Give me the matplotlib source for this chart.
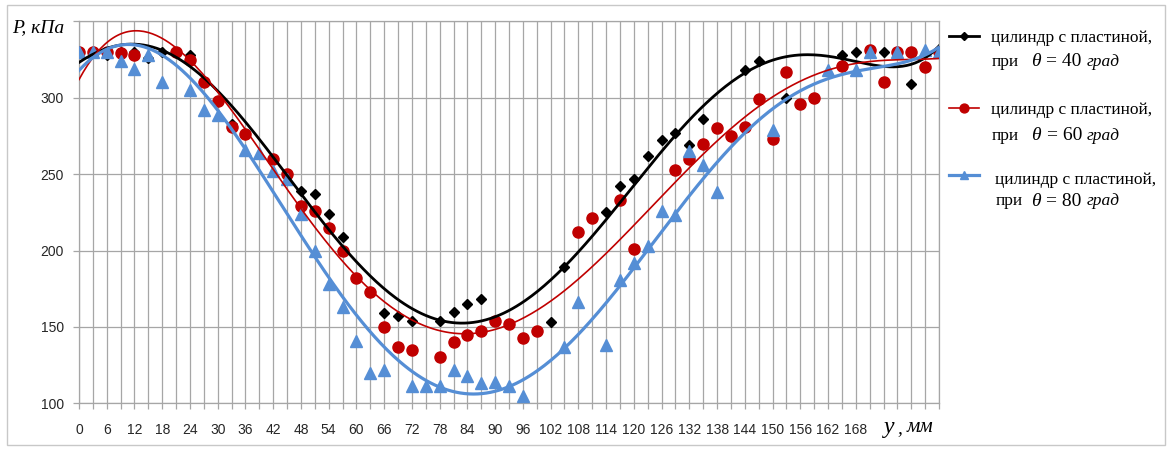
import matplotlib
matplotlib.use('Agg')
import matplotlib.pyplot as plt
import numpy as np
from matplotlib.lines import Line2D
from matplotlib.patches import Rectangle

nan = np.nan

# координата y, мм (шаг 3 мм)
y_mm = list(range(0, 187, 3))

# давление P, кПа (точки)
p40 = [330, 330, 328, 330, 330, 326, 330, 330, 328, 310, 298, 283, 276, nan, 260, 250,
       239, 237, 224, 209, nan, nan, 159, 157, 154, nan, 154, 160, 165, 168, nan, nan,
       nan, nan, 153, 189, nan, nan, 225, 242, 247, 262, 272, 277, 269, 286, nan, nan,
       318, 324, nan, 300, nan, nan, nan, 328, 330, nan, 330, nan, 309, nan, 330]
p60 = [330, 330, 330, 329, 328, nan, nan, 330, 325, 310, 298, 281, 276, nan, 260, 250,
       229, 226, 215, 200, 182, 173, 150, 137, 135, nan, 130, 140, 145, 147, 154, 152,
       143, 147, nan, nan, 212, 221, nan, 233, 201, nan, nan, 253, 260, 270, 280, 275,
       281, 299, 273, 317, 296, 300, nan, 321, nan, 331, 310, 330, 330, 320, 330]
p80 = [330, 330, 330, 324, 319, 328, 310, nan, 305, 292, 289, nan, 266, 264, 252, 247,
       224, 200, 178, 163, 141, 120, 122, nan, 111, 111, 111, 122, 118, 113, 114, 111,
       105, nan, nan, 137, 166, nan, 138, 181, 192, 203, 226, 223, 265, 256, 238, nan,
       nan, nan, 279, nan, nan, nan, 318, nan, 318, 330, nan, 330, nan, 331, 330]

# линии тренда
t40_x = [0, 6, 12, 18, 24, 30, 36, 45, 54, 66, 72, 81, 90, 96, 102, 108, 120, 129, 138,
         147, 153, 159, 165, 171, 177, 183, 186]
t40_p = [324, 331, 333.5, 332, 325.4, 302, 278, 252, 220, 170, 161, 155, 155.4, 163,
         182.6, 200, 245, 275.4, 301.5, 321, 325.9, 327.2, 326, 322, 322, 326, 333]
t60_x = [0, 6, 9, 12, 15, 18, 21, 24, 27, 30, 33, 36, 54, 66, 72, 84, 96, 102, 111, 114,
         120, 129, 135, 144, 147, 150, 156, 162, 168, 174, 180, 186]
t60_p = [311, 338, 342, 343, 341.5, 338.5, 333, 326.5, 316, 303, 290, 275.4, 211, 164,
         154, 145.5, 151, 166, 190, 203.7, 219, 245, 259, 285, 295, 300, 312.4, 319, 322,
         324.3, 325.4, 325.4]
t80_x = [0, 6, 12, 18, 24, 30, 36, 48, 54, 60, 66, 72, 78, 81, 87, 93, 99, 105, 111, 117,
         120, 123, 135, 147, 150, 156, 162, 168, 174, 180, 186]
t80_p = [320, 329, 332, 329, 316, 294, 262, 213, 182.6, 154.3, 134.8, 122.8, 113, 109.8,
         107, 108.3, 115.2, 134.8, 156, 181, 192, 203, 242.8, 284, 290.7, 304.8, 313.5,
         317.8, 321, 325.4, 332]

labels = ['цилиндр с пластиной,', 'цилиндр с пластиной,', 'цилиндр с пластиной,']
angles = ['40', '60', '80']

W, H = 1172, 450
fig = plt.figure(figsize=(W / 100, H / 100), dpi=100)
ax = fig.add_axes([79 / W, 1 - 403.3 / H, (939 - 79) / W, (403.3 - 21.3) / H])

x = np.array(y_mm, dtype=float)
xf = np.linspace(0, 186, 400)
series = [
    (p40, t40_x, t40_p, 'black', 'D', 5.5, 2.0),
    (p60, t60_x, t60_p, '#C00000', 'o', 8, 1.2),
    (p80, t80_x, t80_p, '#558ED5', '^', 8, 2.3),
]
for vals, tx, tp, col, mk, ms, lw in series:
    v = np.array(vals, dtype=float)
    m = ~np.isnan(v)
    ax.plot(x[m], v[m], ls='none', marker=mk, ms=ms, color=col, mec=col, zorder=3)
for vals, tx, tp, col, mk, ms, lw in series:
    poly = np.polynomial.Polynomial.fit(tx, tp, 6)
    ax.plot(xf, poly(xf), color=col, lw=lw, zorder=4)

ax.set_xlim(0, 186)
ax.set_ylim(100, 350)
ax.set_xticks(y_mm)
ax.set_xticklabels([str(v) if (v % 6 == 0 and v <= 168) else '' for v in y_mm])
ax.set_yticks([100, 150, 200, 250, 300, 350])
ax.set_yticklabels(['100', '150', '200', '250', '300', ''])
ax.grid(True, color='#a6a6a6', lw=0.9)
ax.set_axisbelow(True)
for s in ax.spines.values():
    s.set_color('#a6a6a6')
    s.set_linewidth(0.9)
ax.tick_params(axis='both', colors='#a6a6a6', labelcolor='#262626', length=4, width=0.9,
               labelsize=10)
ax.tick_params(axis='x', pad=10)
ax.tick_params(axis='y', pad=7)
for t in ax.get_xticklabels() + ax.get_yticklabels():
    t.set_family('Liberation Sans')

def fx(px):
    return px / W

def fy(py):
    return 1 - py / H

serif = 'Liberation Serif'
fig.text(fx(12), fy(28), 'P, кПа', family=serif, style='italic', fontsize=14,
         ha='left', va='center')
fig.text(fx(884), fy(427), 'y', family=serif, style='italic', fontsize=17,
         ha='left', va='center')
fig.text(fx(897), fy(429), ',', family=serif, style='italic', fontsize=14,
         ha='left', va='center')
fig.text(fx(907), fy(428), 'мм', family=serif, style='italic', fontsize=15,
         ha='left', va='center')

# легенда
leg_y = [36, 108, 175]
txt_y = [38, 110, 180]
txt2_y = [62, 136, 201]
eq_x = [1046, 1047, 1046]
for i, (vals, tx, tp, col, mk, ms, lw) in enumerate(series):
    fig.add_artist(Line2D([fx(949), fx(979)], [fy(leg_y[i])] * 2, color=col, lw=lw,
                          transform=fig.transFigure))
    fig.add_artist(Line2D([fx(964)], [fy(leg_y[i])], marker=mk, ms=ms * 0.8, color=col,
                          ls='none', transform=fig.transFigure))
    x0 = 991 if i < 2 else 995
    fig.text(fx(x0), fy(txt_y[i]), labels[i], family=serif, fontsize=12.5,
             ha='left', va='center')
    fig.text(fx(x0 + 1), fy(txt2_y[i]), 'при', family=serif, fontsize=12.5,
             ha='left', va='center')
    fig.text(fx(1031), fy(txt2_y[i]), 'θ', family=serif, style='italic', fontsize=14,
             ha='left', va='center')
    fig.text(fx(eq_x[i]), fy(txt2_y[i]), '= ' + angles[i], family=serif, fontsize=14,
             ha='left', va='center')
    fig.text(fx(1087), fy(txt2_y[i]), 'град', family=serif, style='italic', fontsize=12.5,
             ha='left', va='center')

fig.add_artist(Rectangle((fx(7), fy(445)), fx(1158), 440 / H, fill=False,
                         edgecolor='#c8c8c8', lw=1, transform=fig.transFigure))

fig.savefig('out.png', dpi=100)
